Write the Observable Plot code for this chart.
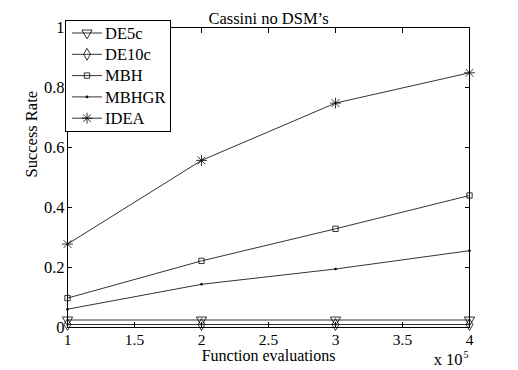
<!DOCTYPE html>
<html><head><meta charset="utf-8">
<script src="https://cdn.jsdelivr.net/npm/d3@7"></script>
<script src="https://cdn.jsdelivr.net/npm/@observablehq/plot@0.6"></script>
<style>body{margin:0;background:#fff}#c{position:relative;width:518px;height:370px}</style>
</head><body><div id="c"></div>
<script>
const evals = [1, 2, 3, 4];
const series = ["DE5c", "DE10c", "MBH", "MBHGR", "IDEA"];
const DE5c = [0.025, 0.025, 0.025, 0.025];
const DE10c = [0.01, 0.01, 0.01, 0.01];
const MBH = [0.098, 0.222, 0.329, 0.44];
const MBHGR = [0.061, 0.144, 0.195, 0.256];
const IDEA = [0.278, 0.557, 0.748, 0.849];
const xTicks = [1, 1.5, 2, 2.5, 3, 3.5, 4];
const yTicks = [0, 0.2, 0.4, 0.6, 0.8, 1];
const values = {DE5c, DE10c, MBH, MBHGR, IDEA};
const data = series.flatMap(s => evals.map((x, i) => ({s, x, y: values[s][i]})));

const font = "'Liberation Serif', 'Times New Roman', serif";
const FS = 16.5;
const TFS = 15.5;
const marks = [Plot.frame({stroke: "#000", strokeWidth: 1})];
for (const s of series) {
  const d = data.filter(e => e.s === s);
  marks.push(Plot.line(d, {x: "x", y: "y", stroke: "#333", strokeWidth: 1}));
  if (s === "MBHGR") marks.push(Plot.dot(d, {x: "x", y: "y", r: 1.3, fill: "#000"}));
  else if (s === "DE5c") marks.push(Plot.dot(d, {x: "x", y: "y", r: 3.8, symbol: "triangle", rotate: 180, stroke: "#000", strokeWidth: 0.8, fill: "none"}));
  else if (s === "DE10c") marks.push(Plot.dot(d, {x: "x", y: "y", r: 3.6, symbol: "diamond", stroke: "#000", strokeWidth: 0.8, fill: "none"}));
  else if (s === "MBH") marks.push(Plot.dot(d, {x: "x", y: "y", r: 3.4, symbol: "square2", stroke: "#000", strokeWidth: 0.8, fill: "none"}));
  else {
    marks.push(Plot.dot(d, {x: "x", y: "y", r: 3.6, symbol: "times", stroke: "#000", strokeWidth: 0.8, fill: "none"}));
    marks.push(Plot.dot(d, {x: "x", y: "y", r: 3.6, symbol: "plus", stroke: "#000", strokeWidth: 0.8, fill: "none"}));
  }
}
const fmt = d => String(d);
marks.push(
  Plot.axisX(xTicks, {anchor: "bottom", tickSize: 0, tickPadding: 6, tickFormat: fmt, fontSize: TFS, label: null}),
  Plot.axisX(xTicks, {anchor: "bottom", tickSize: -5, tickFormat: () => "", label: null}),
  Plot.axisX(xTicks, {anchor: "top", tickSize: -5, tickFormat: () => "", label: null}),
  Plot.axisY(yTicks, {anchor: "left", tickSize: 0, tickPadding: 3, tickFormat: fmt, fontSize: FS, label: null}),
  Plot.axisY(yTicks, {anchor: "left", tickSize: -5, tickFormat: () => "", label: null}),
  Plot.axisY(yTicks, {anchor: "right", tickSize: -5, tickFormat: () => "", label: null}),
  Plot.text(["Cassini no DSM\u2019s"], {frameAnchor: "top", dy: -15, fontSize: FS}),
  Plot.text(["Function evaluations"], {frameAnchor: "bottom", dy: 33, fontSize: 16}),
  Plot.text(["Success Rate"], {frameAnchor: "left", dx: -36, rotate: -90, fontSize: FS}),
  Plot.text(["x 10"], {frameAnchor: "bottom-right", textAnchor: "end", dx: -7, dy: 37, fontSize: FS}),
  Plot.text(["5"], {frameAnchor: "bottom-right", textAnchor: "start", dx: -6, dy: 30, fontSize: 10})
);

const chart = Plot.plot({
  width: 518, height: 370,
  marginLeft: 67, marginRight: 49, marginTop: 27, marginBottom: 43,
  style: {fontFamily: font, fontSize: FS + "px", color: "#000", background: "#fff", overflow: "visible"},
  x: {domain: [1, 4]},
  y: {domain: [0, 1]},
  marks
});
document.getElementById("c").appendChild(chart);

// legend
const svg = d3.select(chart);
const lg = svg.append("g");
lg.append("rect").attr("x", 65.5).attr("y", 20.5).attr("width", 105).attr("height", 111)
  .attr("fill", "#fff").attr("stroke", "#000").attr("stroke-width", 1);
const d3sym = {DE5c: d3.symbolTriangle, DE10c: d3.symbolDiamond, MBH: d3.symbolSquare2};
series.forEach((s, i) => {
  const y = 33 + i * 21.3;
  lg.append("line").attr("x1", 72).attr("x2", 102).attr("y1", y).attr("y2", y).attr("stroke", "#333");
  if (s === "MBHGR") lg.append("circle").attr("cx", 87).attr("cy", y).attr("r", 1.3).attr("fill", "#000");
  else if (s === "IDEA") {
    for (const sym of [d3.symbolTimes, d3.symbolPlus])
      lg.append("path").attr("d", d3.symbol(sym, Math.PI * 3.6 * 3.6)())
        .attr("transform", `translate(87,${y})`).attr("fill", "none").attr("stroke", "#000").attr("stroke-width", 0.8);
  } else {
    const size = s === "DE5c" ? 3.8 : s === "MBH" ? 3.4 : 3.6;
    lg.append("path").attr("d", d3.symbol(d3sym[s], Math.PI * size * size)())
      .attr("transform", `translate(87,${y})` + (s === "DE5c" ? " rotate(180)" : ""))
      .attr("fill", "none").attr("stroke", "#000").attr("stroke-width", 0.8);
  }
  lg.append("text").attr("x", 105).attr("y", y).attr("dy", "0.35em")
    .style("font-family", font).style("font-size", FS + "px").style("text-anchor", "start")
    .text(s);
});
</script></body></html>
